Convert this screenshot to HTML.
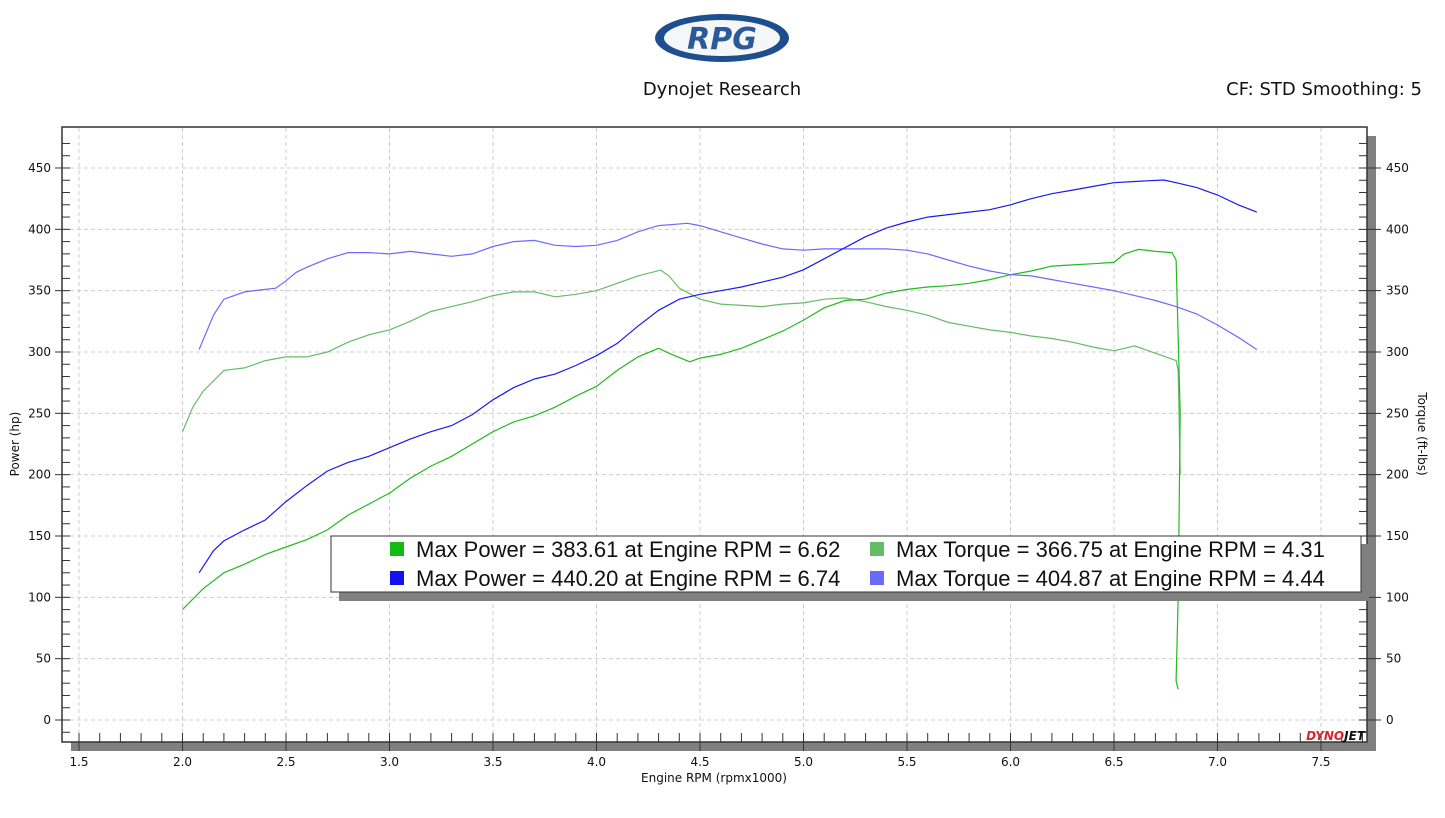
<!DOCTYPE html>
<html><head><meta charset="utf-8"><style>
body{margin:0;background:#fff;font-family:"Liberation Sans",sans-serif;}
svg text{font-family:"DejaVu Sans","Liberation Sans",sans-serif;}
svg text.lg{font-family:"Liberation Sans",sans-serif;}
</style></head><body>
<svg id="c" width="1445" height="813" xmlns="http://www.w3.org/2000/svg">
<g>
<ellipse cx="722" cy="38" rx="67" ry="24" fill="#1d4f8f"/>
<ellipse cx="722" cy="38" rx="58" ry="18" fill="#f4f6f8"/>
<text x="722" y="49" text-anchor="middle" font-size="30" font-style="italic" font-weight="bold" fill="#2a5a9a" font-family="Liberation Serif,serif">RPG</text>
</g>
<text x="722" y="95" text-anchor="middle" font-size="18" fill="#111">Dynojet Research</text>
<text x="1422" y="95" text-anchor="end" font-size="18" fill="#111">CF: STD Smoothing: 5</text>
<rect x="71" y="742" width="1305" height="9" fill="#808080"/>
<rect x="1367" y="136" width="9" height="615" fill="#808080"/>
<rect x="62" y="127" width="1305" height="615" fill="#fff" stroke="#333" stroke-width="1.5"/>
<g id="grid"></g><g id="axes"></g><g id="series"></g>
<g>
<rect x="339" y="544" width="1030" height="57" fill="#808080"/>
<rect x="331" y="536" width="1030" height="56" fill="#fff" stroke="#333"/>
<rect x="390" y="542" width="14" height="14" fill="#11bb11"/><text class="lg" x="416" y="557" font-size="22" fill="#111">Max Power = 383.61 at Engine RPM = 6.62</text>
<rect x="870" y="542" width="14" height="14" fill="#66bb66"/><text class="lg" x="896" y="557" font-size="22" fill="#111">Max Torque = 366.75 at Engine RPM = 4.31</text>
<rect x="390" y="571" width="14" height="14" fill="#1111ee"/><text class="lg" x="416" y="586" font-size="22" fill="#111">Max Power = 440.20 at Engine RPM = 6.74</text>
<rect x="870" y="571" width="14" height="14" fill="#6a6aff"/><text class="lg" x="896" y="586" font-size="22" fill="#111">Max Torque = 404.87 at Engine RPM = 4.44</text>
</g>
<text x="1365" y="740" text-anchor="end" font-size="12" font-weight="bold" font-style="italic"><tspan fill="#e0202a">DYNO</tspan><tspan fill="#111">JET</tspan></text>
<text x="714" y="782" text-anchor="middle" font-size="12" fill="#111">Engine RPM (rpmx1000)</text>
<text transform="translate(19,444) rotate(-90)" text-anchor="middle" font-size="12" fill="#111">Power (hp)</text>
<text transform="translate(1418,434) rotate(90)" text-anchor="middle" font-size="12" fill="#111">Torque (ft-lbs)</text>
</svg>
<script>
const xTicks=[1.5,2.0,2.5,3.0,3.5,4.0,4.5,5.0,5.5,6.0,6.5,7.0,7.5];
const yTicks=[0,50,100,150,200,250,300,350,400,450];
const rpm1=[2.0,2.1,2.2,2.3,2.4,2.5,2.6,2.7,2.8,2.9,3.0,3.1,3.2,3.3,3.4,3.5,3.6,3.7,3.8,3.9,4.0,4.1,4.2,4.3,4.35,4.45,4.5,4.6,4.7,4.8,4.9,5.0,5.1,5.2,5.3,5.4,5.5,5.6,5.7,5.8,5.9,6.0,6.1,6.2,6.3,6.4,6.5,6.55,6.62,6.7,6.78,6.8,6.82,6.81,6.8,6.81];
const power1=[90,107,120,127,135,141,147,155,167,176,185,197,207,215,225,235,243,248,255,264,272,285,296,303,299,292,295,298,303,310,317,326,336,342,343,348,351,353,354,356,359,363,366,370,371,372,373,380,383.6,382,381,375,250,100,32,25];
const torqueRpm1=[2.0,2.05,2.1,2.2,2.3,2.4,2.5,2.6,2.7,2.8,2.9,3.0,3.1,3.2,3.3,3.4,3.5,3.6,3.7,3.8,3.9,4.0,4.1,4.2,4.31,4.35,4.4,4.5,4.6,4.7,4.8,4.9,5.0,5.1,5.2,5.3,5.4,5.5,5.6,5.7,5.8,5.9,6.0,6.1,6.2,6.3,6.4,6.5,6.6,6.7,6.8,6.81,6.82];
const torque1=[235,255,268,285,287,293,296,296,300,308,314,318,325,333,337,341,346,349,349,345,347,350,356,362,366.75,362,352,343,339,338,337,339,340,343,344,341,337,334,330,324,321,318,316,313,311,308,304,301,305,299,293,285,200];
const rpm2=[2.08,2.15,2.2,2.3,2.4,2.5,2.6,2.7,2.8,2.9,3.0,3.1,3.2,3.3,3.4,3.5,3.6,3.7,3.8,3.9,4.0,4.1,4.2,4.3,4.4,4.5,4.6,4.7,4.8,4.9,5.0,5.1,5.2,5.3,5.4,5.5,5.6,5.7,5.8,5.9,6.0,6.1,6.2,6.3,6.4,6.5,6.6,6.74,6.8,6.9,7.0,7.1,7.19];
const power2=[120,138,146,155,163,178,191,203,210,215,222,229,235,240,249,261,271,278,282,289,297,307,321,334,343,347,350,353,357,361,367,376,385,394,401,406,410,412,414,416,420,425,429,432,435,438,439,440.2,438,434,428,420,414];
const torqueRpm2=[2.08,2.15,2.2,2.3,2.4,2.45,2.5,2.55,2.6,2.7,2.8,2.9,3.0,3.1,3.2,3.3,3.4,3.5,3.6,3.7,3.8,3.9,4.0,4.1,4.2,4.3,4.44,4.5,4.6,4.7,4.8,4.9,5.0,5.1,5.2,5.3,5.4,5.5,5.6,5.7,5.8,5.9,6.0,6.1,6.2,6.3,6.4,6.5,6.6,6.7,6.8,6.9,7.0,7.1,7.19];
const torque2=[302,330,343,349,351,352,358,365,369,376,381,381,380,382,380,378,380,386,390,391,387,386,387,391,398,403,404.9,403,398,393,388,384,383,384,384,384,384,383,380,375,370,366,363,362,359,356,353,350,346,342,337,331,322,312,302];
const NS='http://www.w3.org/2000/svg';
const X=v=>79+(v-1.5)*207;
const Y=v=>720-v*1.2267;
function mk(p,t,a){const e=document.createElementNS(NS,t);for(const k in a)e.setAttribute(k,a[k]);p.appendChild(e);return e;}
const g=document.getElementById('grid'),ax=document.getElementById('axes'),s=document.getElementById('series');
xTicks.forEach(v=>{
 const l=mk(g,'line',{x1:X(v),x2:X(v),y1:128,y2:741,stroke:'#ccc','stroke-dasharray':'4,3'});
 
 
 mk(ax,'line',{x1:X(v),x2:X(v),y1:733,y2:751,stroke:'#333'});
 const t=mk(ax,'text',{x:X(v),y:766,'text-anchor':'middle','font-size':12,fill:'#111'});t.textContent=v.toFixed(1);
 
 
});
for(let v=1.6;v<7.75;v+=0.1){mk(ax,'line',{x1:X(v),x2:X(v),y1:733,y2:742,stroke:'#333'});}
yTicks.forEach(v=>{
 const l=mk(g,'line',{x1:63,x2:1366,y1:Y(v),y2:Y(v),stroke:'#ccc','stroke-dasharray':'4,3'});
 
 
 mk(ax,'line',{x1:55,x2:70,y1:Y(v),y2:Y(v),stroke:'#333'});
 mk(ax,'line',{x1:1359,x2:1381,y1:Y(v),y2:Y(v),stroke:'#333'});
 const t=mk(ax,'text',{x:51,y:Y(v)+4,'text-anchor':'end','font-size':12,fill:'#111'});t.textContent=v;
 
 
 const t2=mk(ax,'text',{x:1386,y:Y(v)+4,'font-size':12,fill:'#111'});t2.textContent=v;
 
 
});
for(let v=-10;v<=470;v+=10){if(v%50){mk(ax,'line',{x1:62,x2:70,y1:Y(v),y2:Y(v),stroke:'#333'});mk(ax,'line',{x1:1359,x2:1367,y1:Y(v),y2:Y(v),stroke:'#333'});}}
function line(xs,ys,c,n){const d=xs.map((x,i)=>(i?'L':'M')+X(x).toFixed(1)+','+Y(ys[i]).toFixed(1)).join('');
 const p=mk(s,'path',{d:d,fill:'none',stroke:c,'stroke-width':1.2});
 
 }
line(torqueRpm1,torque1,'#66bb66','green-torque-line');
line(rpm1,power1,'#22bb22','green-power-line');
line(torqueRpm2,torque2,'#6a6aff','blue-torque-line');
line(rpm2,power2,'#1a1aee','blue-power-line');
</script>
</body></html>
